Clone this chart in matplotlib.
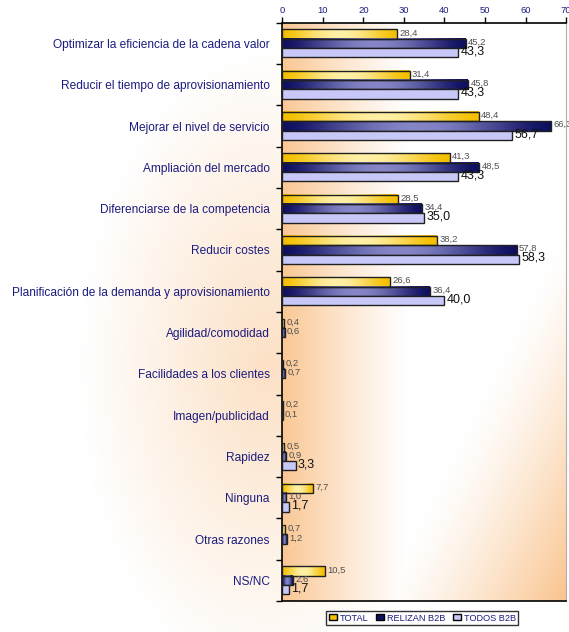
import numpy as np
import matplotlib.pyplot as plt
from matplotlib.patches import Patch

plt.rcParams['font.family'] = ['Liberation Sans', 'DejaVu Sans']

# data
categories = ['Optimizar la eficiencia de la cadena valor',
              'Reducir el tiempo de aprovisionamiento',
              'Mejorar el nivel de servicio',
              'Ampliación del mercado',
              'Diferenciarse de la competencia',
              'Reducir costes',
              'Planificación de la demanda y aprovisionamiento',
              'Agilidad/comodidad',
              'Facilidades a los clientes',
              'Imagen/publicidad',
              'Rapidez',
              'Ninguna',
              'Otras razones',
              'NS/NC']
total = [28.4, 31.4, 48.4, 41.3, 28.5, 38.2, 26.6, 0.4, 0.2, 0.2, 0.5, 7.7, 0.7, 10.5]
relizan = [45.2, 45.8, 66.3, 48.5, 34.4, 57.8, 36.4, 0.6, 0.7, 0.1, 0.9, 1.0, 1.2, 2.6]
todos = [43.3, 43.3, 56.7, 43.3, 35.0, 58.3, 40.0, np.nan, np.nan, np.nan, 3.3, 1.7, np.nan, 1.7]
series_names = ['TOTAL', 'RELIZAN B2B', 'TODOS B2B']
xticks = [0, 10, 20, 30, 40, 50, 60, 70]

navy = '#1c1c80'

fig = plt.figure(figsize=(5.69, 6.32), dpi=100)

# soft peach background for the whole figure
bg = fig.add_axes([0, 0, 1, 1], zorder=-2)
gx, gy = np.meshgrid(np.linspace(0, 1, 200), np.linspace(0, 1, 200))
d = np.sqrt(((gx - 0.47) / 0.33) ** 2 + ((gy - 0.42) / 0.5) ** 2)
w = np.clip(1 - d, 0, 1) * 0.6
peach = np.array([0.98, 0.80, 0.62])
img = 1 - w[..., None] * (1 - peach)
bg.imshow(img, extent=[0, 1, 0, 1], aspect='auto', origin='lower')
bg.axis('off')

ax = fig.add_axes([0.496, 0.049, 0.499, 0.915])

# plot area gradient: peach on the left, fading to white, peach again bottom right
px, py = np.meshgrid(np.linspace(0, 1, 300), np.linspace(0, 1, 300))
left = np.clip(1 - px / 0.45, 0, 1) ** 1.2
corner = np.clip((px - py - 0.35) * 1.6, 0, 1) ** 1.3
wv = np.maximum(left, corner)
pimg = 1 - wv[..., None] * (1 - np.array([0.98, 0.78, 0.58]))
ax.imshow(pimg, extent=[0, 1, 0, 1], aspect='auto', origin='lower',
          transform=ax.transAxes, zorder=0)

n = len(categories)
y = np.arange(n)
h = 0.225


def grad(c_edge, c_mid):
    t = np.linspace(0, 1, 100)
    k = np.sin(np.pi * t) ** 1.5
    c_edge = np.array(c_edge)
    c_mid = np.array(c_mid)
    return (c_edge[None, :] * (1 - k[:, None]) + c_mid[None, :] * k[:, None])[None, :, :]


fills = [grad([0.96, 0.75, 0.0], [1.0, 0.94, 0.65]),
         grad([0.06, 0.06, 0.38], [0.52, 0.52, 0.78]),
         None]
solid = ['#f5c000', '#101060', '#c8c8f8']
offsets = [-h, 0, h]
for vals, off, fill, col in zip([total, relizan, todos], offsets, fills, solid):
    bars = ax.barh(y + off, vals, height=h, color=col if fill is None else 'none',
                   edgecolor='#202020', linewidth=1.0, zorder=3)
    if fill is not None:
        for r in bars:
            if np.isnan(r.get_width()) or r.get_width() <= 0:
                continue
            ax.imshow(fill, extent=[r.get_x(), r.get_x() + r.get_width(),
                                    r.get_y() + r.get_height(), r.get_y()],
                      aspect='auto', zorder=2, interpolation='bilinear')

for i in range(n):
    for vals, off, fs, c in zip([total, relizan, todos], offsets,
                                [6.8, 6.8, 9], ['#505050', '#505050', '#101010']):
        v = vals[i]
        if np.isnan(v):
            continue
        ax.text(v + 0.6, y[i] + off - 0.03, f'{v:.1f}'.replace('.', ','),
                fontsize=fs, color=c, va='center', ha='left', zorder=4, clip_on=False)

ax.set_xlim(0, 70)
ax.set_ylim(n - 0.5, -0.5)
ax.xaxis.tick_top()
ax.set_xticks(xticks)
ax.set_xticklabels([str(t) for t in xticks])
ax.tick_params(axis='x', colors=navy, labelsize=6.8, length=4, width=1, pad=1.5)
ax.set_yticks(y)
ax.set_yticklabels(categories)
ax.set_yticks(np.arange(n + 1) - 0.5, minor=True)
ax.tick_params(axis='y', which='major', length=0, pad=9, labelsize=8.6, labelcolor=navy)
ax.tick_params(axis='y', which='minor', length=4, width=1, color='black')
ax.tick_params(axis='x', color='black')
for s in ['top', 'left', 'bottom']:
    ax.spines[s].set_linewidth(1.2)
ax.spines['right'].set_color('#b0b0b0')
ax.spines['right'].set_linewidth(0.8)

handles = [Patch(facecolor=c, edgecolor='black', linewidth=1.0) for c in solid]
leg = fig.legend(handles, series_names, ncol=3, loc='center',
                 bbox_to_anchor=(0.742, 0.022), fontsize=6.6, frameon=True,
                 fancybox=False, handlelength=0.9, handleheight=0.6,
                 handletextpad=0.3, columnspacing=0.8, borderpad=0.3)
leg.get_frame().set_edgecolor('black')
leg.get_frame().set_linewidth(1.0)
for t in leg.get_texts():
    t.set_color(navy)

fig.savefig('out.png', dpi=100)
